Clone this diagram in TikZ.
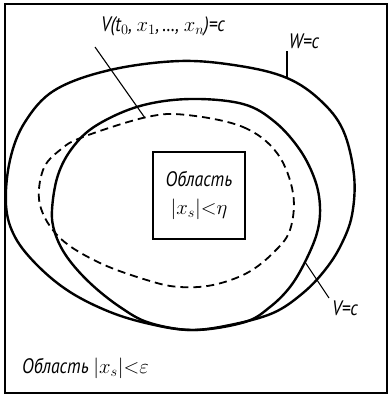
\documentclass[tikz,border=0pt]{standalone}
\usepackage{fontspec}
\setmainfont{PT Sans}[FakeStretch=0.85]
\begin{document}
\begin{tikzpicture}[x=1bp,y=-1bp,
  curve/.style={line width=2.4bp},
  dashcurve/.style={line width=1.8bp, dash pattern=on 8bp off 5bp},
  leader/.style={line width=1.1bp},
  lab/.style={font=\itshape\fontsize{21}{24}\selectfont, inner sep=1bp},
  regionbox/.style={draw, line width=2.2bp, minimum width=92bp, minimum height=87bp, align=center, font=\itshape\fontsize{21}{28}\selectfont}]
\useasboundingbox (0,0) rectangle (390,396);
\draw[line width=2.6bp] (5,4) rectangle (387,393);
% outer W=c
\draw[curve] plot[smooth cycle, tension=0.6] coordinates {
  (180,61) (240,66) (287,78) (320,100) (343,130) (354,175) (352,215)
  (341,245) (325,270) (303,293) (273,313) (230,325) (190,330)
  (150,324) (110,312) (70,292) (38,266) (15,237) (6,205) (10,160)
  (25,122) (55,90) (110,70)};
% inner V=c
\draw[curve] plot[smooth cycle, tension=0.6] coordinates {
  (190,99) (243,104) (275,122) (300,150) (315,180) (320,207) (317,233)
  (305,262) (290,287) (270,307) (245,322) (195,330) (150,323)
  (120,307) (90,283) (67,257) (55,233) (52,210) (58,175) (73,147)
  (97,125) (140,106)};
% dashed V(t0,...)=c
\draw[dashcurve] plot[smooth cycle, tension=0.6] coordinates {
  (187,115) (243,127) (277,153) (293,193) (290,230) (273,253) (247,273)
  (213,285) (180,287) (150,281) (100,263) (60,238) (40,205) (43,170)
  (60,150) (83,137) (147,117)};
\node[regionbox] (inner) at (199,195.5) {Область\\$|x_s|{<}\eta$};
\node[lab] (vlab) at (163,26) {V(t$_0$, $x_1$,\,\dots, $x_n$)=c};
\node[lab] (wlab) at (304,41) {W=c};
\node[lab] (vclab) at (345,308) {V=c};
\node[lab, anchor=west] (outer) at (21,368) {Область $|x_s|{<}\varepsilon$};
\coordinate (vs) at (95,47);
\coordinate (vd) at (145,118);
\coordinate (ws) at (287,51);
\coordinate (wd) at (287,78);
\coordinate (cs) at (329,298);
\coordinate (cd) at (305,262);
\draw[leader] (vs) -- (vd);
\draw[leader] (ws) -- (wd);
\draw[leader] (cs) -- (cd);
\end{tikzpicture}
\end{document}
